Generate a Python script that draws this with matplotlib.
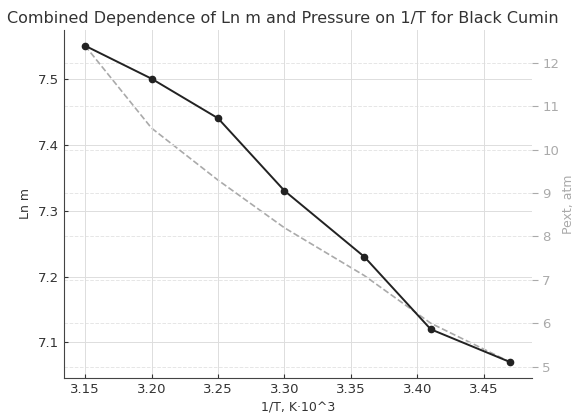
import matplotlib
matplotlib.use("Agg")
import matplotlib.pyplot as plt

# data
inv_t = [3.15, 3.20, 3.25, 3.30, 3.36, 3.41, 3.47]
ln_m = [7.55, 7.50, 7.44, 7.33, 7.23, 7.12, 7.07]
pext = [12.4, 10.5, 9.3, 8.2, 7.1, 6.0, 5.1]
x_ticks = [3.15, 3.20, 3.25, 3.30, 3.35, 3.40, 3.45]

fig = plt.figure(figsize=(5.85, 4.15), dpi=100)
ax = fig.add_axes([0.109, 0.089, 0.8, 0.839])

ax.plot(inv_t, ln_m, color="#222222", lw=1.4, marker="o", markersize=4.5, zorder=3)
ax.set_xticks(x_ticks)
ax.set_xticklabels([f"{v:.2f}" for v in x_ticks])
ax.set_yticks([7.1, 7.2, 7.3, 7.4, 7.5])
ax.set_xlabel("1/T, K·10^3", fontsize=9, color="#333333")
ax.set_ylabel("Ln m", fontsize=9, color="#333333")
ax.tick_params(direction="in", labelsize=9.5, colors="#333333", length=3)
ax.grid(True, color="#dddddd", lw=0.7)
for s in ["top", "right"]:
    ax.spines[s].set_visible(False)
ax.spines["left"].set_color("#444444")
ax.spines["bottom"].set_color("#444444")

ax2 = ax.twinx()
ax2.plot(inv_t, pext, color="#aaaaaa", lw=1.2, ls="--", zorder=2)
ax2.set_yticks([5, 6, 7, 8, 9, 10, 11, 12])
ax2.set_ylabel("Pext, atm", fontsize=9, color="#aaaaaa", labelpad=2)
ax2.tick_params(axis="y", colors="#aaaaaa", labelsize=9.5, length=4)
ax2.grid(True, color="#e6e6e6", lw=0.7, ls="--")
for s in ["top", "right", "left", "bottom"]:
    ax2.spines[s].set_visible(False)

# keep the Ln m line on top of the pressure axis
ax.set_zorder(ax2.get_zorder() + 1)
ax.patch.set_visible(False)

fig.text(0.483, 0.955, "Combined Dependence of Ln m and Pressure on 1/T for Black Cumin",
         ha="center", va="center", fontsize=11.5, color="#333333")

fig.savefig("out.png", dpi=100)
